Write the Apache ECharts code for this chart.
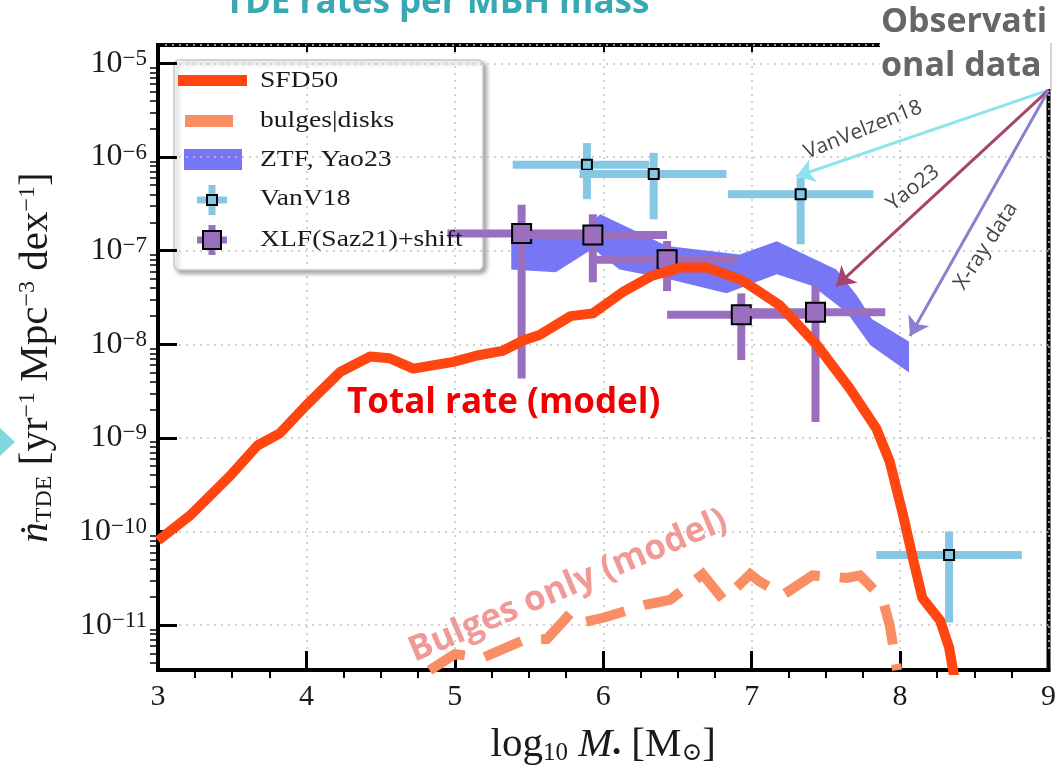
<!DOCTYPE html>
<html><head><meta charset="utf-8">
<script src="https://cdn.jsdelivr.net/npm/echarts@6/dist/echarts.min.js"></script>
<style>html,body{margin:0;padding:0;background:#fff}#c{width:1059px;height:771px}</style>
</head><body><div id="c"></div>
<script>
// ---- data ----
const xTicks = [3, 4, 5, 6, 7, 8, 9];
const yTickExps = [-11, -10, -9, -8, -7, -6, -5];

// SFD50 total rate (model)
const totalX = [3.00, 3.22, 3.49, 3.67, 3.82, 4.00, 4.23, 4.43, 4.56, 4.72, 4.99, 5.15, 5.32, 5.46, 5.57, 5.78, 5.93, 6.13, 6.33, 6.52, 6.70, 6.94, 7.19, 7.44, 7.66, 7.84, 7.93, 8.02, 8.09, 8.15, 8.27, 8.33, 8.37];
const totalY = [8.0e-11, 1.5e-10, 4.0e-10, 8.3e-10, 1.12e-9, 2.24e-9, 5.1e-9, 7.4e-9, 7.1e-9, 5.5e-9, 6.5e-9, 7.6e-9, 8.5e-9, 1.1e-8, 1.26e-8, 2.0e-8, 2.14e-8, 3.6e-8, 5.4e-8, 6.6e-8, 6.6e-8, 4.8e-8, 2.6e-8, 9.8e-9, 3.4e-9, 1.26e-9, 5.6e-10, 1.5e-10, 4.9e-11, 1.95e-11, 1.12e-11, 5.8e-12, 2.5e-12];

// bulges only (model)
const bulgesX = [4.83, 5.00, 5.19, 5.46, 5.62, 5.78, 5.86, 6.00, 6.29, 6.45, 6.67, 6.81, 6.99, 7.05, 7.21, 7.41, 7.64, 7.73, 7.88, 7.93, 7.98];
const bulgesY = [3.3e-12, 4.9e-12, 4.5e-12, 6.9e-12, 7.1e-12, 1.35e-11, 1.07e-11, 1.2e-11, 1.66e-11, 1.86e-11, 3.5e-11, 1.86e-11, 3.5e-11, 2.95e-11, 2.1e-11, 3.4e-11, 3.2e-11, 3.4e-11, 1.95e-11, 1.0e-11, 3.3e-12];

// ZTF, Yao23 band
const bandUpX = [5.38, 5.85, 5.98, 6.43, 6.92, 7.17, 7.57, 7.71, 7.81, 8.06];
const bandUpY = [1.7e-7, 1.58e-7, 2.45e-7, 1.12e-7, 9.1e-8, 1.26e-7, 6.3e-8, 3.3e-8, 1.86e-8, 1.07e-8];
const bandLoX = [5.38, 5.68, 5.93, 6.11, 6.43, 6.83, 7.17, 7.41, 7.64, 7.80, 8.06];
const bandLoY = [6.3e-8, 5.9e-8, 1.05e-7, 6.3e-8, 5.0e-8, 3.5e-8, 5.6e-8, 4.2e-8, 2.2e-8, 9.8e-9, 5.0e-9];

// VanV18 points with error bars
const vanX = [5.89, 6.34, 7.33, 8.33];
const vanY = [8.3e-7, 6.6e-7, 4.0e-7, 5.6e-11];
const vanXLo = [5.39, 5.84, 6.84, 7.84];
const vanXHi = [6.31, 6.83, 7.82, 8.82];
const vanYLo = [3.55e-7, 2.16e-7, 1.17e-7, 1.07e-11];
const vanYHi = [1.41e-6, 1.11e-6, 6.0e-7, 1.0e-10];

// XLF(Saz21)+shift points with error bars
const xlfX = [5.45, 5.93, 6.43, 6.93, 7.43];
const xlfY = [1.53e-7, 1.47e-7, 8.0e-8, 2.07e-8, 2.2e-8];
const xlfXLo = [4.95, 5.43, 5.93, 6.43, 6.93];
const xlfXHi = [5.95, 6.43, 6.90, 7.43, 7.90];
const xlfYLo = [4.3e-9, 4.6e-8, 3.7e-8, 6.8e-9, 1.48e-9];
const xlfYHi = [3.1e-7, 2.45e-7, 1.27e-7, 3.5e-8, 4.2e-8];

// annotation arrows (data coordinates)
const arrowFrom = [9.0, 5.18e-6];
const arrowTipsX = [7.30, 7.57, 8.067];
const arrowTipsY = [6.2e-7, 4.19e-8, 1.23e-8];

// ---- styles ----
const RED = '#ff4510';
const SALMON = '#f98d64';
const BAND = 'rgba(100,100,245,0.88)';
const VAN = '#86c8e4';
const XLF = '#9a6fc0';
const SERIF = "'Liberation Serif','DejaVu Serif',serif";
const SANS = "'Open Sans',Lato,sans-serif";

const zip = (a, b) => a.map((v, i) => [v, b[i]]);

function errRender(barW, markSize, color) {
  return function (params, api) {
    const x = api.value(0), y = api.value(1);
    const c = api.coord([x, y]);
    const xl = api.coord([api.value(2), y]);
    const xh = api.coord([api.value(3), y]);
    const yl = api.coord([x, api.value(4)]);
    const yh = api.coord([x, api.value(5)]);
    return {
      type: 'group',
      children: [
        { type: 'line', shape: { x1: xl[0], y1: c[1], x2: xh[0], y2: c[1] }, style: { stroke: color, lineWidth: barW } },
        { type: 'line', shape: { x1: c[0], y1: yl[1], x2: c[0], y2: yh[1] }, style: { stroke: color, lineWidth: barW } },
        { type: 'rect', shape: { x: c[0] - markSize / 2, y: c[1] - markSize / 2, width: markSize, height: markSize },
          style: { fill: color, stroke: '#000', lineWidth: 2 } }
      ]
    };
  };
}

function bandRender(params, api) {
  const pts = [];
  for (let i = 0; i < bandUpX.length; i++) pts.push(api.coord([bandUpX[i], bandUpY[i]]));
  for (let i = bandLoX.length - 1; i >= 0; i--) pts.push(api.coord([bandLoX[i], bandLoY[i]]));
  return { type: 'polygon', shape: { points: pts }, style: { fill: BAND } };
}

const chart = echarts.init(document.getElementById('c'), null, { renderer: 'canvas' });

const splitStyle = { show: true, lineStyle: { type: [2, 5], color: '#c4c4c4', width: 1.5 } };
const txt = (t, x, y, font, fill, extra) => Object.assign({
  type: 'text', x: x, y: y, z: 101,
  style: { text: t, fill: fill, font: font, align: 'left', verticalAlign: 'middle', textAlign: 'left', textVerticalAlign: 'middle' }
}, extra || {});

const option = {
  animation: false,
  backgroundColor: '#fff',
  grid: { left: 158, right: 9.5, top: 45, bottom: 98.5, show: true, borderColor: '#000', borderWidth: 4, backgroundColor: 'transparent' },
  xAxis: [
    {
      type: 'value', min: 3, max: 9, interval: 1, position: 'bottom',
      axisLine: { show: true, onZero: false, lineStyle: { color: '#000', width: 4 } },
      axisTick: { show: true, inside: true, length: 19, lineStyle: { width: 3, color: '#000' } },
      axisLabel: { margin: 12, fontFamily: SERIF, fontSize: 30, color: '#1a1a1a' },
      splitLine: splitStyle,
      name: '{r|log}{sub|10}{i| M}{sub|•}{r| [M}{sub|⊙}{r|]}',
      nameLocation: 'middle', nameGap: 55,
      nameTextStyle: {
        rich: {
          r: { fontFamily: SERIF, fontSize: 41, color: '#1a1a1a' },
          i: { fontFamily: SERIF, fontSize: 41, fontStyle: 'italic', color: '#1a1a1a' },
          sub: { fontFamily: SERIF, fontSize: 25, color: '#1a1a1a', verticalAlign: 'bottom' }
        }
      }
    },
    {
      type: 'value', min: 3, max: 9, interval: 1, position: 'bottom',
      axisLine: { show: false, onZero: false }, axisTick: { show: false, inside: false },
      axisLabel: { show: false }, splitLine: { show: false },
      minorTick: { show: true, splitNumber: 4, length: 8, lineStyle: { width: 2, color: '#000' } }
    },
    {
      type: 'value', min: 3, max: 9, interval: 1, position: 'top',
      axisLine: { show: false, onZero: false }, axisTick: { show: true, inside: true, length: 7, lineStyle: { width: 2, color: '#000' } },
      axisLabel: { show: false }, splitLine: { show: false }
    }
  ],
  yAxis: [
    {
      type: 'log', logBase: 10, min: 3.32e-12, max: 1.574e-5, position: 'left',
      axisLine: { show: true, onZero: false, lineStyle: { color: '#000', width: 4 } },
      axisTick: { show: true, inside: true, length: 19, lineStyle: { width: 3, color: '#000' } },
      axisLabel: {
        showMinLabel: false, showMaxLabel: false, margin: 11,
        formatter: function (v) { const e = Math.round(Math.log10(v)); return '{b|10}{s|−' + Math.abs(e) + '}'; },
        rich: {
          b: { fontFamily: SERIF, fontSize: 32, color: '#1a1a1a' },
          s: { fontFamily: SERIF, fontSize: 23, color: '#1a1a1a', verticalAlign: 'top' }
        }
      },
      splitLine: splitStyle,
      minorTick: { show: false },
      name: '{ni|ṅ}{sub|TDE}{r| [yr}{sup|−1}{r| Mpc}{sup|−3}{r| dex}{sup|−1}{r|]}',
      nameLocation: 'middle', nameRotate: 90, nameGap: 101,
      nameTextStyle: {
        rich: {
          r: { fontFamily: SERIF, fontSize: 41, color: '#1a1a1a' },
          ni: { fontFamily: SERIF, fontSize: 41, fontStyle: 'italic', color: '#1a1a1a' },
          sub: { fontFamily: SERIF, fontSize: 24, color: '#1a1a1a', verticalAlign: 'bottom' },
          sup: { fontFamily: SERIF, fontSize: 24, color: '#1a1a1a', verticalAlign: 'top' }
        }
      }
    },
    {
      type: 'log', logBase: 10, min: 3.32e-12, max: 1.574e-5, position: 'left',
      axisLine: { show: false, onZero: false }, axisTick: { show: false, inside: false },
      axisLabel: { show: false }, splitLine: { show: false },
      minorTick: { show: true, splitNumber: 9, length: 8, lineStyle: { width: 1.5, color: '#000' } }
    }
  ],
  series: [
    {
      name: 'ZTF, Yao23', type: 'custom', xAxisIndex: 0, yAxisIndex: 0, z: 2,
      renderItem: bandRender, data: [[bandUpX[0], bandUpY[0]]], silent: true
    },
    {
      name: 'bulges|disks', type: 'line', xAxisIndex: 0, yAxisIndex: 0, z: 3,
      data: zip(bulgesX, bulgesY), showSymbol: false, symbol: 'none',
      lineStyle: { color: SALMON, width: 10, type: [40, 20], cap: 'butt', join: 'miter' }, silent: true
    },
    {
      name: 'VanV18', type: 'custom', xAxisIndex: 0, yAxisIndex: 0, z: 4,
      renderItem: errRender(8, 10, VAN),
      encode: { x: [0, 2, 3], y: [1, 4, 5] },
      data: vanX.map((v, i) => [v, vanY[i], vanXLo[i], vanXHi[i], vanYLo[i], vanYHi[i]]), silent: true
    },
    {
      name: 'XLF(Saz21)+shift', type: 'custom', xAxisIndex: 0, yAxisIndex: 0, z: 5,
      renderItem: errRender(8, 19, XLF),
      encode: { x: [0, 2, 3], y: [1, 4, 5] },
      data: xlfX.map((v, i) => [v, xlfY[i], xlfXLo[i], xlfXHi[i], xlfYLo[i], xlfYHi[i]]), silent: true
    },
    {
      name: 'SFD50', type: 'line', xAxisIndex: 0, yAxisIndex: 0, z: 6,
      data: zip(totalX, totalY), showSymbol: false, symbol: 'none',
      lineStyle: { color: RED, width: 10, join: 'round' }, silent: true
    },
    {
      name: 'arrows', type: 'line', xAxisIndex: 0, yAxisIndex: 0, z: 8, data: [], silent: true,
      markLine: {
        silent: true, animation: false, symbol: ['none', 'arrow'], symbolSize: 18,
        label: { show: false },
        data: [
          [{ coord: arrowFrom, lineStyle: { color: '#8ee4ec', width: 3, type: 'solid' } }, { coord: [arrowTipsX[0], arrowTipsY[0]] }],
          [{ coord: arrowFrom, lineStyle: { color: '#a3456f', width: 3, type: 'solid' } }, { coord: [arrowTipsX[1], arrowTipsY[1]] }],
          [{ coord: arrowFrom, lineStyle: { color: '#8b7fcf', width: 3, type: 'solid' } }, { coord: [arrowTipsX[2], arrowTipsY[2]] }]
        ]
      }
    }
  ],
  graphic: [
    // title (cut off at top)
    { type: 'text', x: 437, y: 21, z: 100, style: { text: 'TDE rates per MBH mass', fill: '#38a8b2', font: 'bold 35px ' + SANS, align: 'center', verticalAlign: 'bottom', textAlign: 'center', textVerticalAlign: 'bottom' } },
    // observational data box
    { type: 'rect', z: 100, shape: { x: 880, y: 0, width: 172, height: 89 }, style: { fill: '#fff' } },
    { type: 'line', z: 101, shape: { x1: 1051, y1: 43, x2: 1051, y2: 90 }, style: { stroke: '#aaa', lineWidth: 1 } },
    txt('Observati', 881, 22, 'bold 34px ' + SANS, '#666'),
    txt('onal data', 881, 66, 'bold 34px ' + SANS, '#666'),
    // arrow labels
    { type: 'text', x: 863, y: 130, rotation: 22 * Math.PI / 180, z: 101, style: { text: 'VanVelzen18', fill: '#444', font: '21px ' + SANS, align: 'center', verticalAlign: 'middle', textAlign: 'center', textVerticalAlign: 'middle' } },
    { type: 'text', x: 913, y: 188, rotation: 38 * Math.PI / 180, z: 101, style: { text: 'Yao23', fill: '#444', font: '21px ' + SANS, align: 'center', verticalAlign: 'middle', textAlign: 'center', textVerticalAlign: 'middle' } },
    { type: 'text', x: 986, y: 246, rotation: 57 * Math.PI / 180, z: 101, style: { text: 'X-ray data', fill: '#444', font: '21px ' + SANS, align: 'center', verticalAlign: 'middle', textAlign: 'center', textVerticalAlign: 'middle' } },
    // model annotations
    txt('Total rate (model)', 347, 403, 'bold 35px ' + SANS, '#f00000'),
    { type: 'text', x: 568, y: 586, rotation: 23 * Math.PI / 180, z: 101, style: { text: 'Bulges only (model)', fill: '#f09a98', font: 'bold 35px ' + SANS, align: 'center', verticalAlign: 'middle', textAlign: 'center', textVerticalAlign: 'middle' } },
    // left teal triangle
    { type: 'polygon', z: 101, shape: { points: [[0, 428], [15, 442], [0, 456]] }, style: { fill: '#7fd8e0' } },
    // legend
    {
      type: 'group', z: 110, children: [
        { type: 'rect', shape: { x: 174, y: 60, width: 309, height: 210, r: 5 }, style: { fill: '#fff', stroke: '#c8c8c8', lineWidth: 1.5, shadowBlur: 4, shadowOffsetX: 3, shadowOffsetY: 3, shadowColor: 'rgba(0,0,0,0.35)' } },
        { type: 'rect', shape: { x: 178, y: 75, width: 69, height: 11 }, style: { fill: RED } },
        { type: 'rect', shape: { x: 185, y: 115, width: 48, height: 12 }, style: { fill: SALMON } },
        { type: 'rect', shape: { x: 184, y: 149, width: 58, height: 21 }, style: { fill: BAND } },
        { type: 'line', shape: { x1: 197, y1: 200, x2: 227, y2: 200 }, style: { stroke: VAN, lineWidth: 7 } },
        { type: 'line', shape: { x1: 212, y1: 185, x2: 212, y2: 215 }, style: { stroke: VAN, lineWidth: 7 } },
        { type: 'rect', shape: { x: 207, y: 195, width: 10, height: 10 }, style: { fill: VAN, stroke: '#000', lineWidth: 2 } },
        { type: 'line', shape: { x1: 197, y1: 240, x2: 227, y2: 240 }, style: { stroke: XLF, lineWidth: 7 } },
        { type: 'line', shape: { x1: 212, y1: 225, x2: 212, y2: 255 }, style: { stroke: XLF, lineWidth: 7 } },
        { type: 'rect', shape: { x: 203, y: 231, width: 18, height: 18 }, style: { fill: XLF, stroke: '#000', lineWidth: 2 } },
        txt('SFD50', 260, 81, '23px ' + SERIF, '#1a1a1a', { scaleX: 1.2 }),
        txt('bulges|disks', 260, 121, '23px ' + SERIF, '#1a1a1a', { scaleX: 1.2 }),
        txt('ZTF, Yao23', 260, 160, '23px ' + SERIF, '#1a1a1a', { scaleX: 1.2 }),
        txt('VanV18', 260, 199, '23px ' + SERIF, '#1a1a1a', { scaleX: 1.2 }),
        txt('XLF(Saz21)+shift', 260, 240, '23px ' + SERIF, '#1a1a1a', { scaleX: 1.2 })
      ]
    }
  ]
};

chart.setOption(option);
</script>
</body></html>
